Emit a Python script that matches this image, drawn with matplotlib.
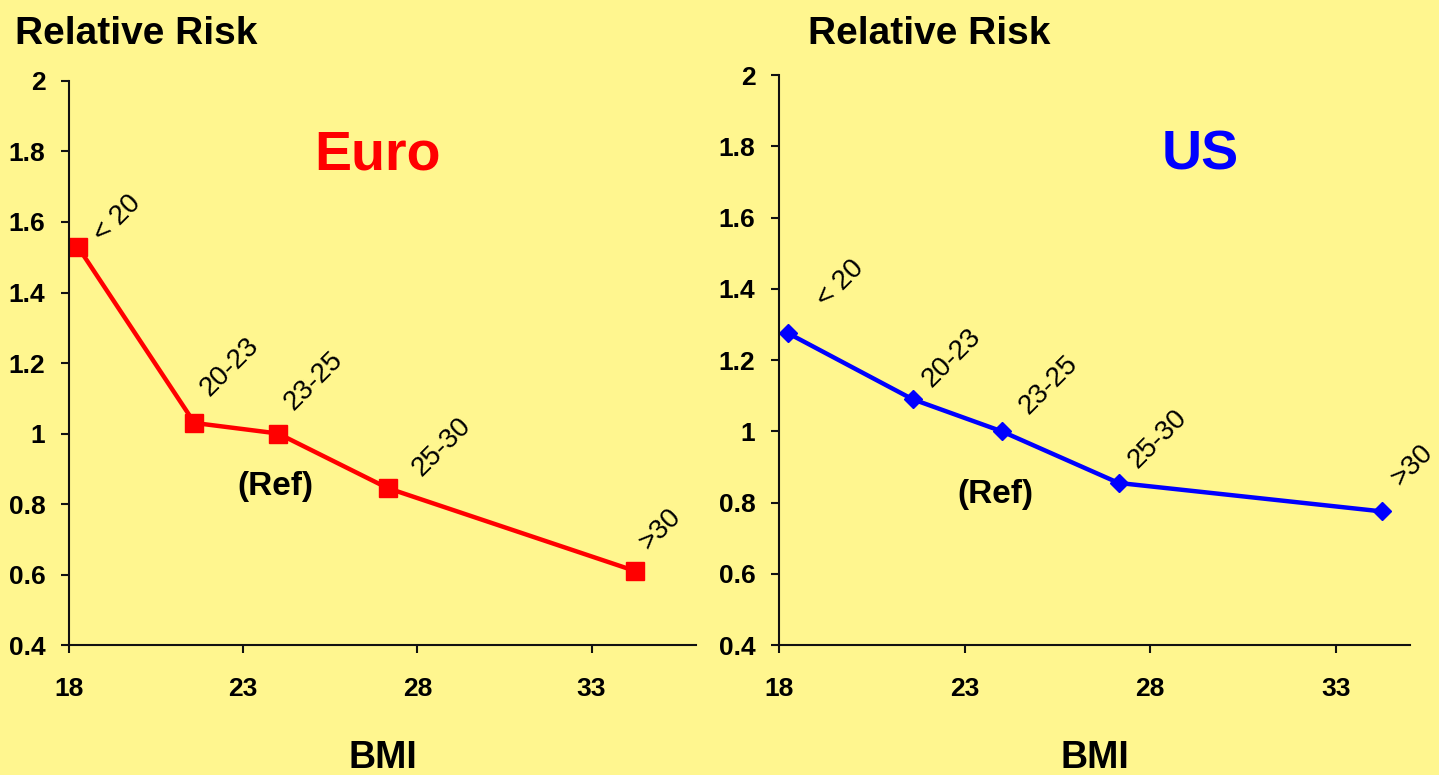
import matplotlib
matplotlib.use('Agg')
import matplotlib.pyplot as plt

plt.rcParams['font.family'] = ['Liberation Sans', 'DejaVu Sans']

bmi_mid = [18.25, 21.6, 24.0, 27.15, 34.25]
bmi_groups = ['< 20', '20-23', '23-25', '25-30', '>30']
euro_rr = [1.53, 1.03, 1.0, 0.845, 0.61]
us_rr = [1.275, 1.09, 1.0, 0.855, 0.775]
y_ticks = [0.4, 0.6, 0.8, 1, 1.2, 1.4, 1.6, 1.8, 2]
x_ticks = [18, 23, 28, 33]

bg = '#FFF68F'
fig_dpi = 100

# label offsets in pixels from each point (dy positive = down)
euro_off = [(29, 1), (19, -22), (20, -18), (38, -7), (18, -16)]
us_off = [(42, -21), (23, -7), (31, -12), (23, -10), (23, -20)]

fig = plt.figure(figsize=(14.39, 7.75), dpi=fig_dpi, facecolor=bg)
ax_eu = fig.add_axes([0.048, 0.1677, 0.4357, 0.7278])
ax_us = fig.add_axes([0.5413, 0.1677, 0.4385, 0.7355])


def style_axis(ax, xmax):
    ax.set_facecolor(bg)
    ax.set_xlim(18, xmax)
    ax.set_ylim(0.4, 2)
    ax.set_yticks(y_ticks)
    ax.set_yticklabels([f'{v:g}' for v in y_ticks])
    ax.set_xticks(x_ticks)
    for s in ['top', 'right']:
        ax.spines[s].set_visible(False)
    for s in ['left', 'bottom']:
        ax.spines[s].set_linewidth(1.5)
        ax.spines[s].set_color('#111111')
    ax.tick_params(axis='both', direction='out', length=6, width=1.5,
                   labelsize=19, color='#111111')
    ax.tick_params(axis='y', pad=11)
    ax.tick_params(axis='x', pad=17)
    for lab in ax.get_xticklabels() + ax.get_yticklabels():
        lab.set_fontweight('bold')


style_axis(ax_eu, 36)
style_axis(ax_us, 35)

ax_eu.plot(bmi_mid, euro_rr, color='#FF0000', lw=3.2, marker='s', ms=13, clip_on=False)
ax_us.plot(bmi_mid, us_rr, color='#0000FF', lw=3.2, marker='D', ms=9, clip_on=False)

for ax, vals, offs in [(ax_eu, euro_rr, euro_off), (ax_us, us_rr, us_off)]:
    for xv, yv, txt, (dx, dy) in zip(bmi_mid, vals, bmi_groups, offs):
        ax.annotate(txt, xy=(xv, yv), xytext=(dx, -dy), textcoords='offset pixels',
                    rotation=45, rotation_mode='anchor', ha='left', va='bottom',
                    fontsize=20, color='black')

fig.text(15 / 1439, 1 - 44 / 775, 'Relative Risk', fontsize=28, fontweight='bold', va='baseline')
fig.text(808 / 1439, 1 - 44 / 775, 'Relative Risk', fontsize=28, fontweight='bold', va='baseline')
fig.text(378 / 1439, 1 - 155 / 775, 'Euro', fontsize=40, fontweight='bold', color='#FF0000',
         ha='center', va='center')
fig.text(1200 / 1439, 1 - 155 / 775, 'US', fontsize=40, fontweight='bold', color='#0000FF',
         ha='center', va='center')
fig.text(275 / 1439, 1 - 486 / 775, '(Ref)', fontsize=24, fontweight='bold', ha='center', va='center')
fig.text(995 / 1439, 1 - 495 / 775, '(Ref)', fontsize=24, fontweight='bold', ha='center', va='center')
fig.text(383 / 1439, 1 - 740 / 775, 'BMI', fontsize=27, fontweight='bold', ha='center', va='top')
fig.text(1095 / 1439, 1 - 740 / 775, 'BMI', fontsize=27, fontweight='bold', ha='center', va='top')

fig.savefig('out.png', dpi=fig_dpi, facecolor=bg)
